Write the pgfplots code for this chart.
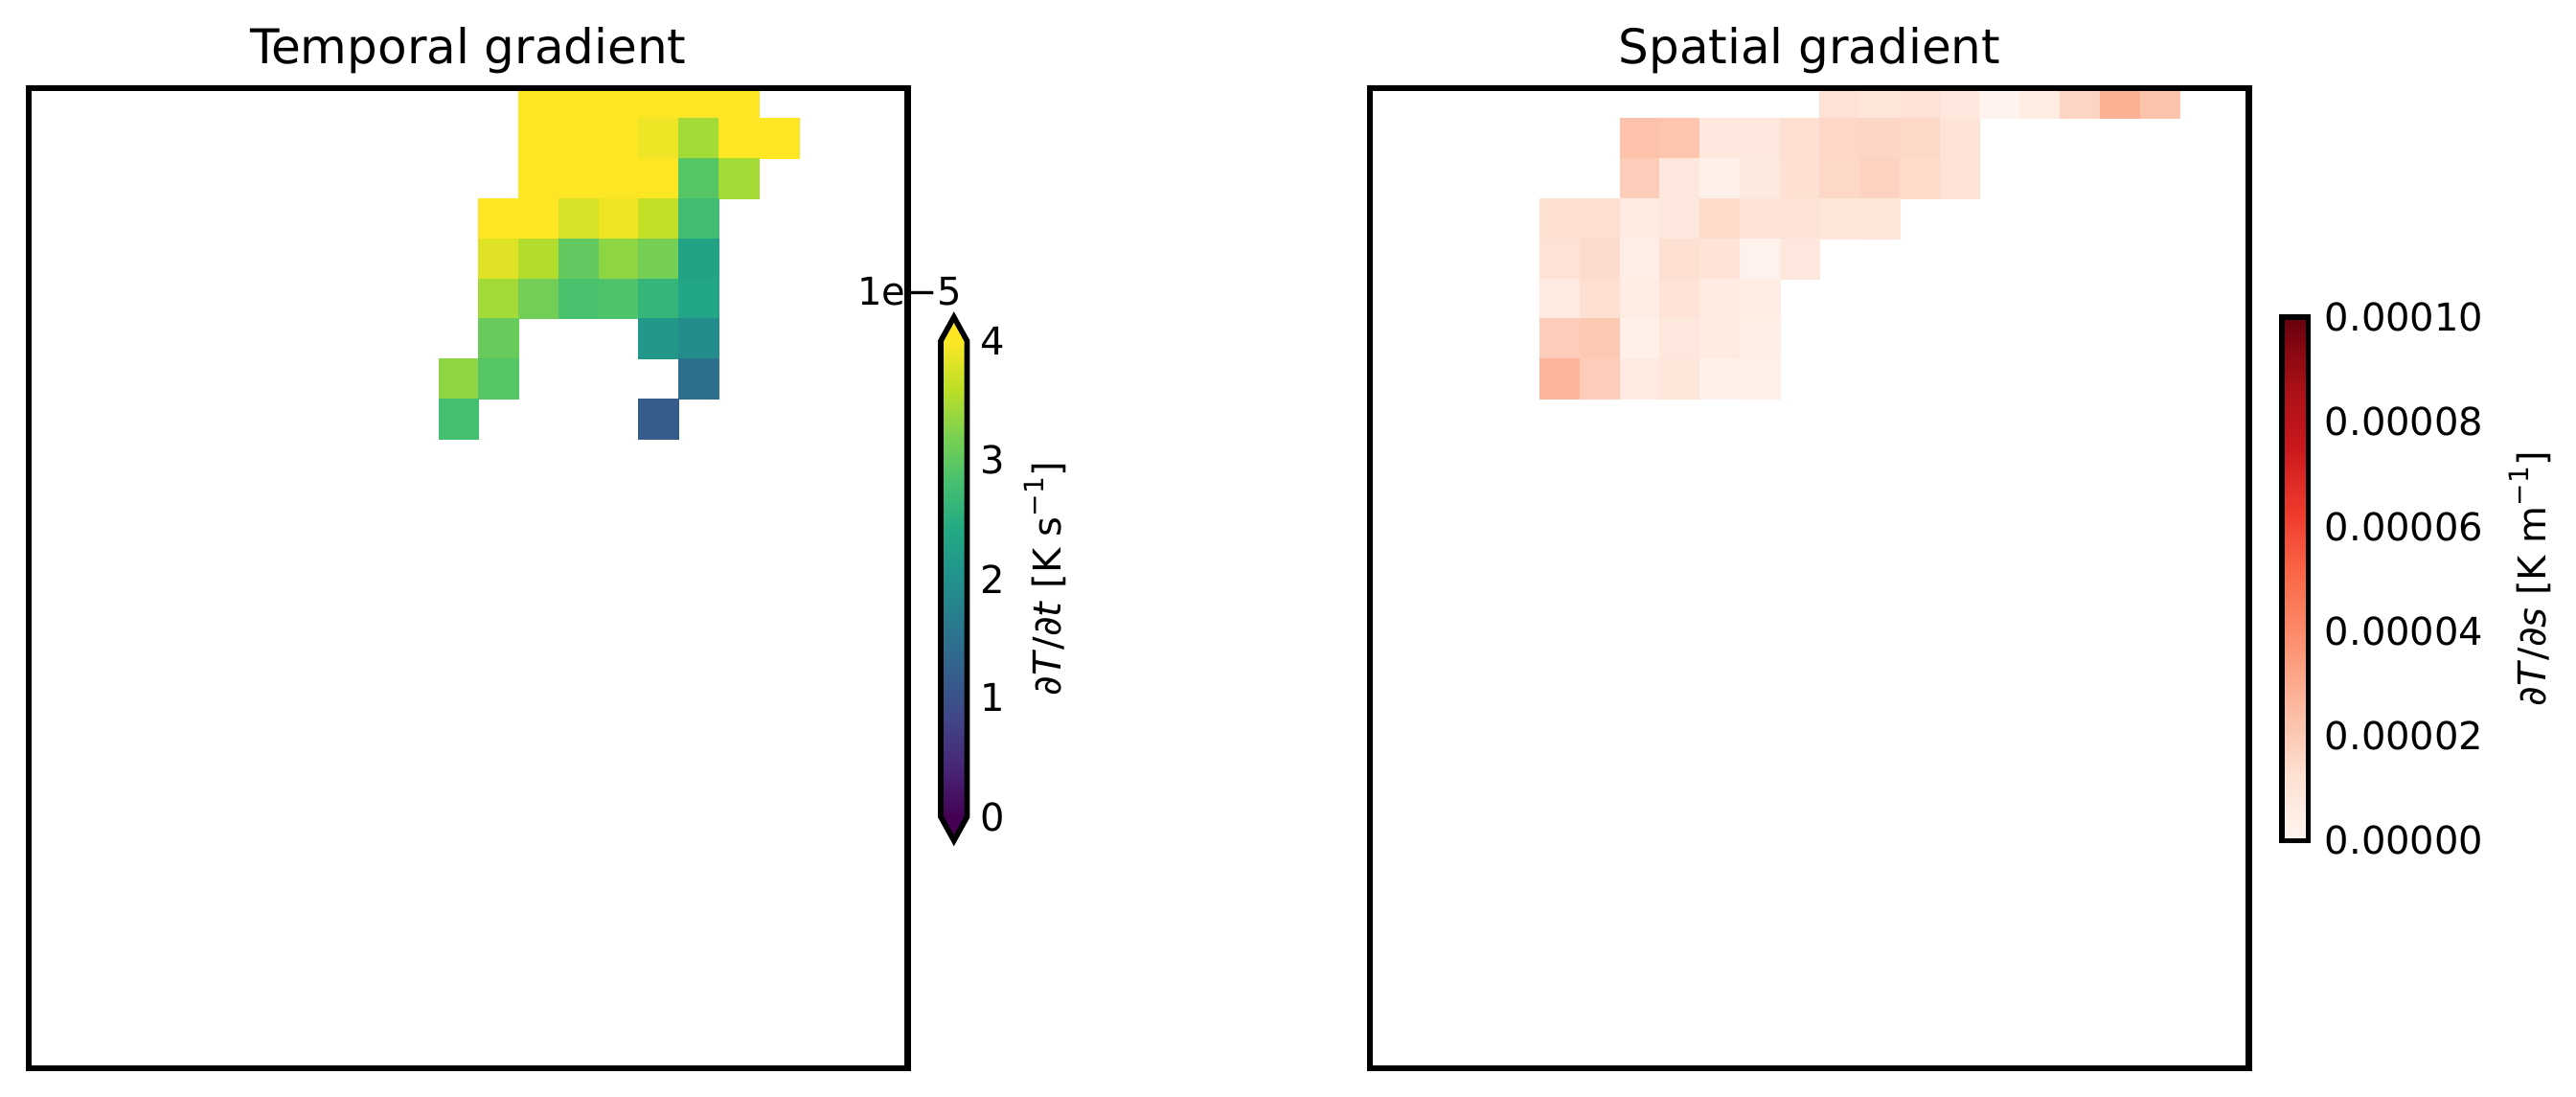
\documentclass[border=0pt]{standalone}
\usepackage{fontspec}
\setmainfont{DejaVu Sans}
\usepackage{pgfplots}
\pgfplotsset{compat=1.18}
\pgfplotsset{
  colormap={viridisx}{rgb255=(68,1,84) rgb255=(72,36,117) rgb255=(65,68,135) rgb255=(53,95,141) rgb255=(42,120,142) rgb255=(33,145,140) rgb255=(34,168,132) rgb255=(68,191,112) rgb255=(122,209,81) rgb255=(189,223,38) rgb255=(253,231,37)},
  colormap={redsx}{rgb255=(255,245,240) rgb255=(254,224,210) rgb255=(252,187,161) rgb255=(252,146,114) rgb255=(251,106,74) rgb255=(239,59,44) rgb255=(203,24,29) rgb255=(165,15,21) rgb255=(103,0,13)},
}
\pgfplotscolormaptoshadingspec{viridisx}{124.18pt}\vspecA
\def\tmpA{\pgfdeclareverticalshading{cbA}{6.875pt}}
\expandafter\tmpA\expandafter{\vspecA}
\pgfplotscolormaptoshadingspec{redsx}{136.6pt}\vspecB
\def\tmpB{\pgfdeclareverticalshading{cbB}{6.875pt}}
\expandafter\tmpB\expandafter{\vspecB}
\definecolor{vtop}{RGB}{253,231,37}
\definecolor{vbot}{RGB}{68,1,84}

\begin{document}
\begin{tikzpicture}
\useasboundingbox (0,0) rectangle (672.25pt,286.25pt);

% ---------------- Temporal gradient ----------------
\begin{axis}[at={(7.5pt,7.5pt)}, anchor=south west,
  x=10.4425pt, y=10.4425pt,
  xmin=-10.2466, xmax=11.7237, ymin=-15.729, ymax=8.762,
  axis line style={draw=none}, xtick=\empty, ytick=\empty,
  colormap name=viridisx, point meta min=0, point meta max=4,
  clip marker paths=true]
\addplot[scatter, only marks, mark=square*, mark size=5.2213pt,
  scatter/use mapped color={draw=mapped color, fill=mapped color},
  mark options={line width=0.2pt},
  point meta=explicit] table[x=x, y=y, meta=v] {
x y v
2.5 8.5 4
3.5 8.5 4
4.5 8.5 4
5.5 8.5 4
6.5 8.5 4
7.5 8.5 4
2.5 7.5 4
3.5 7.5 4
4.5 7.5 4
5.5 7.5 3.9
6.5 7.5 3.45
7.5 7.5 4
8.5 7.5 4
2.5 6.5 4
3.5 6.5 4
4.5 6.5 4
5.5 6.5 4
6.5 6.5 2.93
7.5 6.5 3.45
1.5 5.5 4
2.5 5.5 4
3.5 5.5 3.76
4.5 5.5 3.92
5.5 5.5 3.64
6.5 5.5 2.76
1.5 4.5 3.82
2.5 4.5 3.54
3.5 4.5 3.02
4.5 4.5 3.32
5.5 4.5 3.16
6.5 4.5 2.32
1.5 3.5 3.45
2.5 3.5 3.14
3.5 3.5 2.84
4.5 3.5 2.88
5.5 3.5 2.62
6.5 3.5 2.36
1.5 2.5 3.06
5.5 2.5 2.12
6.5 2.5 1.92
0.5 1.5 3.32
1.5 1.5 2.93
6.5 1.5 1.48
0.5 0.5 2.8
5.5 0.5 1.16
};
\end{axis}
\draw[line width=1.625pt] (7.5pt,7.5pt) rectangle (236.92pt,263.25pt);
\node[anchor=base, font=\fontsize{12.5}{14}\selectfont] at (122.21pt,269.6pt) {Temporal gradient};

% colorbar (temporal)
\node[inner sep=0pt, outer sep=0pt, anchor=south west] at (245.5pt,73.11pt) {\pgfuseshading{cbA}};
\fill[vtop] (245.5pt,197.0pt) -- (245.5pt,197.29pt) -- (248.9375pt,203.5pt) -- (252.375pt,197.29pt) -- (252.375pt,197.0pt) -- cycle;
\fill[vbot] (245.5pt,73.4pt) -- (245.5pt,73.11pt) -- (248.9375pt,66.9pt) -- (252.375pt,73.11pt) -- (252.375pt,73.4pt) -- cycle;
\draw[line width=1.4pt, miter limit=10] (245.5pt,73.11pt) -- (248.9375pt,66.9pt) -- (252.375pt,73.11pt) -- (252.375pt,197.29pt) -- (248.9375pt,203.5pt) -- (245.5pt,197.29pt) -- cycle;
\begin{axis}[at={(245.5pt,73.11pt)}, anchor=south west, scale only axis,
  width=6.875pt, height=124.18pt, xmin=0, xmax=1, ymin=0, ymax=4,
  axis line style={draw=none}, xtick=\empty, ytick={0,1,2,3,4},
  yticklabels={0,1,2,3,4}, yticklabel pos=right, major tick length=0pt,
  yticklabel style={font=\fontsize{10}{12}\selectfont}]
\end{axis}
\node[anchor=base east, inner sep=0pt, font=\fontsize{10}{12}\selectfont] at (251.25pt,206.5pt) {1e−5};
\node[rotate=90, font=\fontsize{10}{12}\selectfont] at (272.75pt,135.2pt)
  {\textit{∂T}/\textit{∂t} [K s\raisebox{0.85ex}{\fontsize{7}{8}\selectfont −1}]};

% ---------------- Spatial gradient ----------------
\begin{axis}[at={(357.5pt,7.5pt)}, anchor=south west,
  x=10.4425pt, y=10.4425pt,
  xmin=-10.2466, xmax=11.7237, ymin=-15.729, ymax=8.762,
  axis line style={draw=none}, xtick=\empty, ytick=\empty,
  colormap name=redsx, point meta min=0, point meta max=10,
  clip marker paths=true]
\addplot[scatter, only marks, mark=square*, mark size=5.2213pt,
  scatter/use mapped color={draw=mapped color, fill=mapped color},
  mark options={line width=0.2pt},
  point meta=explicit] table[x=x, y=y, meta=v] {
x y v
1.5 8.5 1.13
2.5 8.5 0.89
3.5 8.5 1.13
4.5 8.5 0.77
5.5 8.5 0.12
6.5 8.5 0.48
7.5 8.5 1.62
8.5 8.5 2.84
9.5 8.5 2.2
-3.5 7.5 2.26
-2.5 7.5 2.16
-1.5 7.5 0.77
-0.5 7.5 0.83
0.5 7.5 1.25
1.5 7.5 1.55
2.5 7.5 1.59
3.5 7.5 1.52
4.5 7.5 1.01
-3.5 6.5 1.89
-2.5 6.5 0.77
-1.5 6.5 0.30
-0.5 6.5 0.71
0.5 6.5 1.19
1.5 6.5 1.52
2.5 6.5 1.72
3.5 6.5 1.45
4.5 6.5 1.07
-5.5 5.5 1.19
-4.5 5.5 1.25
-3.5 5.5 0.60
-2.5 5.5 0.77
-1.5 5.5 1.42
-0.5 5.5 1.13
0.5 5.5 1.13
1.5 5.5 0.89
2.5 5.5 0.95
-5.5 4.5 1.13
-4.5 4.5 1.39
-3.5 4.5 0.42
-2.5 4.5 1.25
-1.5 4.5 1.07
-0.5 4.5 0.18
0.5 4.5 0.83
-5.5 3.5 0.65
-4.5 3.5 1.25
-3.5 3.5 0.48
-2.5 3.5 1.07
-1.5 3.5 0.60
-0.5 3.5 0.48
-5.5 2.5 1.89
-4.5 2.5 2.03
-3.5 2.5 0.24
-2.5 2.5 0.77
-1.5 2.5 0.60
-0.5 2.5 0.42
-5.5 1.5 2.68
-4.5 1.5 1.89
-3.5 1.5 0.65
-2.5 1.5 0.95
-1.5 1.5 0.24
-0.5 1.5 0.36
};
\end{axis}
\draw[line width=1.625pt] (357.5pt,7.5pt) rectangle (586.92pt,263.25pt);
\node[anchor=base, font=\fontsize{12.5}{14}\selectfont] at (472.21pt,269.6pt) {Spatial gradient};

% colorbar (spatial)
\node[inner sep=0pt, outer sep=0pt, anchor=south west] at (595.5pt,66.9pt) {\pgfuseshading{cbB}};
\draw[line width=1.4pt] (595.5pt,66.9pt) rectangle (602.375pt,203.5pt);
\begin{axis}[at={(595.5pt,66.9pt)}, anchor=south west, scale only axis,
  width=6.875pt, height=136.6pt, xmin=0, xmax=1, ymin=0, ymax=10,
  axis line style={draw=none}, xtick=\empty, ytick={0,2,4,6,8,10},
  yticklabels={0.00000,0.00002,0.00004,0.00006,0.00008,0.00010},
  yticklabel pos=right, major tick length=0pt,
  yticklabel style={font=\fontsize{10}{12}\selectfont, xshift=0.8pt}]
\end{axis}
\node[rotate=90, font=\fontsize{10}{12}\selectfont] at (660.2pt,135.2pt)
  {\textit{∂T}/\textit{∂s} [K m\raisebox{0.85ex}{\fontsize{7}{8}\selectfont −1}]};
\end{tikzpicture}
\end{document}
